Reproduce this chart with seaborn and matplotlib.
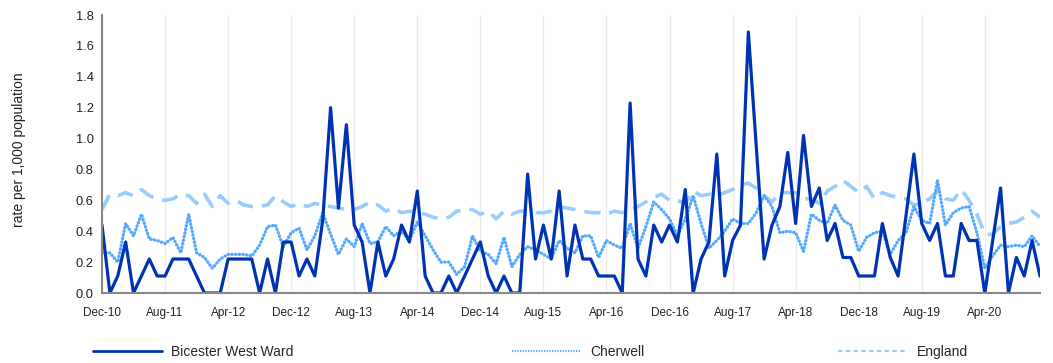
import numpy as np
import pandas as pd
import seaborn as sns
import matplotlib
matplotlib.use('Agg')
import matplotlib.pyplot as plt
from matplotlib.lines import Line2D

# Meses (Dec-10 .. Nov-20) y series
meses = pd.date_range('2010-12-01', periods=120, freq='MS').strftime('%b-%y').tolist()

bicester = [0.44, 0.0, 0.11, 0.33, 0.0, 0.11, 0.22, 0.11, 0.11, 0.22,
            0.22, 0.22, 0.11, 0.0, 0.0, 0.0, 0.22, 0.22, 0.22, 0.22,
            0.0, 0.22, 0.0, 0.33, 0.33, 0.11, 0.22, 0.11, 0.47, 1.2,
            0.55, 1.09, 0.44, 0.33, 0.0, 0.33, 0.11, 0.22, 0.44, 0.33,
            0.66, 0.11, 0.0, 0.0, 0.11, 0.0, 0.11, 0.22, 0.33, 0.11,
            0.0, 0.11, 0.0, 0.0, 0.77, 0.22, 0.44, 0.22, 0.66, 0.11,
            0.44, 0.22, 0.22, 0.11, 0.11, 0.11, 0.0, 1.23, 0.22, 0.11,
            0.44, 0.33, 0.44, 0.33, 0.67, 0.0, 0.22, 0.33, 0.9, 0.11,
            0.34, 0.44, 1.69, 0.95, 0.22, 0.44, 0.56, 0.91, 0.45, 1.02,
            0.56, 0.68, 0.34, 0.45, 0.23, 0.23, 0.11, 0.11, 0.11, 0.45,
            0.23, 0.11, 0.5, 0.9, 0.45, 0.34, 0.45, 0.11, 0.11, 0.45,
            0.34, 0.34, 0.0, 0.34, 0.68, 0.0, 0.23, 0.11, 0.34, 0.11]

cherwell = [0.26, 0.26, 0.20, 0.45, 0.37, 0.51, 0.35, 0.34, 0.32, 0.36,
            0.26, 0.51, 0.26, 0.23, 0.16, 0.22, 0.25, 0.25, 0.25, 0.24,
            0.31, 0.43, 0.44, 0.30, 0.39, 0.42, 0.28, 0.37, 0.52, 0.38,
            0.25, 0.35, 0.30, 0.45, 0.32, 0.33, 0.43, 0.37, 0.40, 0.34,
            0.46, 0.37, 0.28, 0.20, 0.20, 0.12, 0.17, 0.37, 0.27, 0.25,
            0.19, 0.36, 0.17, 0.25, 0.30, 0.28, 0.25, 0.22, 0.34, 0.29,
            0.26, 0.37, 0.37, 0.23, 0.34, 0.31, 0.29, 0.45, 0.29, 0.43,
            0.59, 0.54, 0.48, 0.37, 0.48, 0.63, 0.45, 0.29, 0.34, 0.40,
            0.48, 0.45, 0.45, 0.52, 0.63, 0.56, 0.39, 0.40, 0.39, 0.27,
            0.51, 0.47, 0.45, 0.57, 0.47, 0.44, 0.27, 0.36, 0.39, 0.40,
            0.25, 0.34, 0.39, 0.56, 0.47, 0.45, 0.73, 0.44, 0.52, 0.55,
            0.56, 0.39, 0.16, 0.24, 0.31, 0.30, 0.31, 0.30, 0.37, 0.30]

england = [0.54, 0.64, 0.63, 0.65, 0.63, 0.67, 0.63, 0.61, 0.60, 0.61,
           0.64, 0.63, 0.58, 0.64, 0.56, 0.63, 0.58, 0.60, 0.57, 0.56,
           0.56, 0.57, 0.63, 0.59, 0.56, 0.58, 0.56, 0.58, 0.57, 0.56,
           0.55, 0.54, 0.54, 0.56, 0.59, 0.57, 0.53, 0.55, 0.52, 0.53,
           0.52, 0.51, 0.49, 0.48, 0.49, 0.53, 0.54, 0.54, 0.51, 0.53,
           0.48, 0.53, 0.51, 0.53, 0.53, 0.52, 0.52, 0.53, 0.56, 0.55,
           0.54, 0.53, 0.52, 0.52, 0.51, 0.53, 0.52, 0.54, 0.56, 0.59,
           0.62, 0.64, 0.60, 0.60, 0.58, 0.66, 0.63, 0.64, 0.63, 0.65,
           0.67, 0.70, 0.71, 0.68, 0.63, 0.59, 0.65, 0.65, 0.65, 0.61,
           0.61, 0.58, 0.66, 0.69, 0.73, 0.69, 0.65, 0.69, 0.61, 0.65,
           0.63, 0.62, 0.61, 0.57, 0.58, 0.61, 0.66, 0.61, 0.60, 0.67,
           0.60, 0.51, 0.38, 0.38, 0.43, 0.45, 0.46, 0.49, 0.53, 0.49]

series = ['Bicester West Ward', 'Cherwell', 'England']
colores = ['#0033b4', '#55aaff', '#99ccff']

datos = pd.DataFrame({'mes': np.arange(len(meses)),
                      'Bicester West Ward': bicester,
                      'Cherwell': cherwell,
                      'England': england})

sns.set_style('white')
plt.rcParams['font.family'] = ['Liberation Sans', 'DejaVu Sans']

fig = plt.figure(figsize=(10.53, 3.63), dpi=100)
ax = fig.add_axes([102/1053, 1 - 293/363, 938/1053, 278/363])

# England (dashed) y Cherwell (dotted) debajo, Bicester arriba
sns.lineplot(x='mes', y='England', data=datos, ax=ax, color=colores[2],
             linewidth=2.6, linestyle=(0, (4.5, 2.5)))
sns.lineplot(x='mes', y='Cherwell', data=datos, ax=ax, color=colores[1],
             linewidth=2.4, linestyle=(0, (0.1, 1.0)), dash_capstyle='round')
sns.lineplot(x='mes', y='Bicester West Ward', data=datos, ax=ax, color=colores[0],
             linewidth=2.3)

ax.set_xlim(0, len(meses) - 1)
ax.set_ylim(0, 1.8)
ax.set_yticks(np.arange(0, 1.81, 0.2))
ax.set_yticklabels([f'{v:.1f}' for v in np.arange(0, 1.81, 0.2)], fontsize=9.3, color='#222222')
posiciones = list(range(0, len(meses), 8))
ax.set_xticks(posiciones)
ax.set_xticklabels([meses[p] for p in posiciones], fontsize=8.5, color='#222222')

ax.grid(axis='x', color='#ebebeb', linewidth=1)
ax.set_axisbelow(True)
for lado in ['top', 'right']:
    ax.spines[lado].set_visible(False)
for lado in ['left', 'bottom']:
    ax.spines[lado].set_color('#888888')
    ax.spines[lado].set_linewidth(1.5)
ax.tick_params(axis='both', which='major', length=4, width=1.2, color='#888888')
ax.tick_params(axis='y', pad=2)
ax.tick_params(axis='x', pad=6)

ax.set_xlabel('')
ax.set_ylabel('rate per 1,000 population', fontsize=10, color='#222222')
ax.yaxis.set_label_coords(-0.081, 0.515)

# Leyenda: tres entradas separadas como en el original
estilos = [dict(linestyle='-', linewidth=2),
           dict(linestyle=(0, (0.6, 0.6)), linewidth=1.6),
           dict(linestyle=(0, (2, 1.5)), linewidth=1.6)]
inicios = [93, 512, 838]
for nombre, color, est, x0 in zip(series, colores, estilos, inicios):
    h = Line2D([], [], color=color, **est)
    fig.legend([h], [nombre], loc='center left', bbox_to_anchor=(x0/1053, 1 - 352/363),
               frameon=False, fontsize=10, handlelength=5.0, handletextpad=0.65,
               borderpad=0, borderaxespad=0)

fig.savefig('out.png', dpi=100)
